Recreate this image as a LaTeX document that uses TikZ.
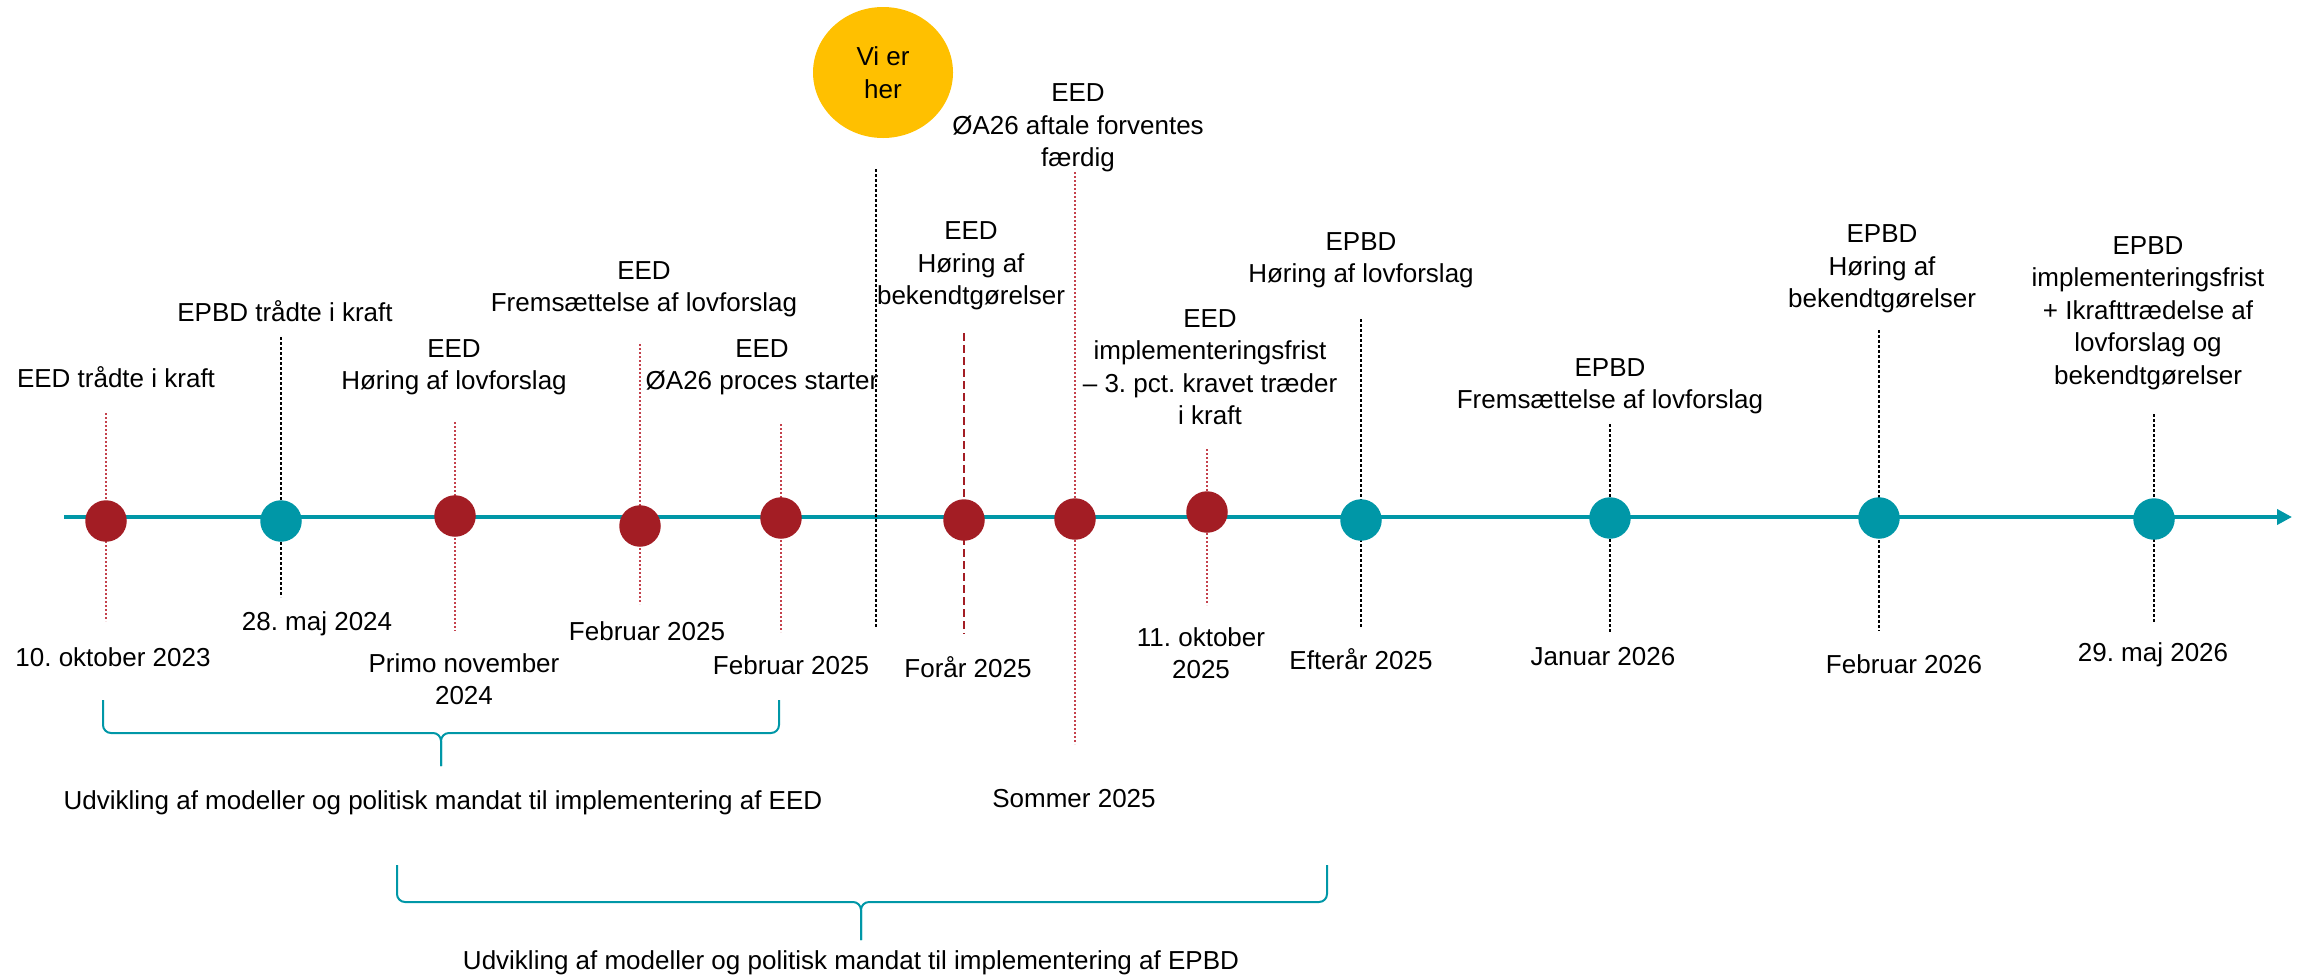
\documentclass[tikz,border=0pt]{standalone}
\usepackage{fontspec}
\setmainfont{Liberation Sans}
\frenchspacing
\usetikzlibrary{
  arrows.meta,
  shapes.geometric,
  positioning
}
\definecolor{eedred}{HTML}{A31D24}
\definecolor{eedthin}{HTML}{C4414C}
\definecolor{epbdteal}{HTML}{0097A7}
\definecolor{herecol}{HTML}{FFC000}
\tikzset{
  >={Triangle[length=15pt, width=15pt]},
  ball/.style = {circle, inner sep=0pt, minimum size=41.5pt},
  eed/.style = {ball, fill=eedred},
  epbd/.style = {ball, fill=epbdteal},
  axis/.style = {draw=epbdteal, line width=4.5pt},
  eedline/.style = {draw=eedthin, line width=1.3pt, dash pattern=on 2pt off 2pt},
  forline/.style = {draw=eedred, line width=2.5pt, dash pattern=on 8pt off 4pt},
  epbdline/.style = {draw=black, line width=1.3pt, dash pattern=on 3pt off 2pt},
  txt/.style = {align=center, font=\fontsize{26}{32.5}\selectfont},
  brace/.style = {draw=epbdteal, line width=2pt, rounded corners=8pt},
}

\begin{document}
\begin{tikzpicture}[x=1pt, y=-1pt]
  \useasboundingbox (0,0) rectangle (2306,978);

  \coordinate (start) at (64,517);
  \coordinate (end) at (2292,517);
  \draw[axis, ->] (start) -- (end);

  \coordinate (a1) at (106,413);   \coordinate (z1) at (106,621);
  \coordinate (a2) at (281,337);   \coordinate (z2) at (281,597);
  \coordinate (a3) at (455,422);   \coordinate (z3) at (455,631);
  \coordinate (a4) at (640,344);   \coordinate (z4) at (640,604);
  \coordinate (a5) at (781,424);   \coordinate (z5) at (781,632);
  \coordinate (ah) at (876,169);   \coordinate (zh) at (876,628);
  \coordinate (a6) at (964,333);   \coordinate (z6) at (964,634);
  \coordinate (a7) at (1075,172);  \coordinate (z7) at (1075,744);
  \coordinate (a8) at (1207,449);  \coordinate (z8) at (1207,605);
  \coordinate (a9) at (1361,319);  \coordinate (z9) at (1361,628);
  \coordinate (a10) at (1610,424); \coordinate (z10) at (1610,633);
  \coordinate (a11) at (1879,330); \coordinate (z11) at (1879,631);
  \coordinate (a12) at (2154,414); \coordinate (z12) at (2154,622);

  \draw[eedline] (a1) -- (z1) (a3) -- (z3) (a4) -- (z4) (a5) -- (z5)
    (a7) -- (z7) (a8) -- (z8);
  \draw[forline] (a6) -- (z6);
  \draw[epbdline] (a2) -- (z2) (ah) -- (zh) (a9) -- (z9) (a10) -- (z10)
    (a11) -- (z11) (a12) -- (z12);

  \node[eed] (d1) at (106,521) {};
  \node[epbd] (d2) at (281,521) {};
  \node[eed] (d3) at (455,516) {};
  \node[eed] (d4) at (640,526) {};
  \node[eed] (d5) at (781,518) {};
  \node[eed] (d6) at (964,520) {};
  \node[eed] (d7) at (1075,519) {};
  \node[eed] (d8) at (1207,512) {};
  \node[epbd] (d9) at (1361,520) {};
  \node[epbd] (d10) at (1610,518) {};
  \node[epbd] (d11) at (1879,518) {};
  \node[epbd] (d12) at (2154,519) {};

  \node[ellipse, fill=herecol, minimum width=140pt, minimum height=131pt, txt]
    (here) at (883,72.5) {Vi er\\her};

  \node[txt] (t1) at (116,377) {EED trådte i kraft};
  \node[txt] (t2) at (285,311) {EPBD trådte i kraft};
  \node[txt] (t3) at (454,367) {EED\\Høring af lovforslag};
  \node[txt] (t4) at (644,289) {EED\\Fremsættelse af lovforslag};
  \node[txt] (t5) at (762,367) {EED\\ØA26 proces starter};
  \node[txt] (t6) at (971,266) {EED\\Høring af\\bekendtgørelser};
  \node[txt] (t7) at (1078,128) {EED\\ØA26 aftale forventes\\færdig};
  \node[txt] (t8) at (1210,367) {EED\\implementeringsfrist\\– 3. pct. kravet træder\\i kraft};
  \node[txt] (t9) at (1361,260) {EPBD\\Høring af lovforslag};
  \node[txt] (t10) at (1610,386) {EPBD\\Fremsættelse af lovforslag};
  \node[txt] (t11) at (1882,269) {EPBD\\Høring af\\bekendtgørelser};
  \node[txt] (t12) at (2148,313) {EPBD\\implementeringsfrist\\+ Ikrafttrædelse af\\lovforslag og\\bekendtgørelser};

  \node[txt] (b1) at (113,657) {10. oktober 2023};
  \node[txt] (b2) at (317,624) {28. maj 2024};
  \node[txt] (b3) at (464,679) {Primo november\\2024};
  \node[txt] (b4) at (647,631) {Februar 2025};
  \node[txt] (b5) at (791,665) {Februar 2025};
  \node[txt] (b6) at (968,667) {Forår 2025};
  \node[txt] (b7) at (1074,799) {Sommer 2025};
  \node[txt] (b8) at (1201,653) {11. oktober\\2025};
  \node[txt] (b9) at (1361,659) {Efterår 2025};
  \node[txt] (b10) at (1603,657) {Januar 2026};
  \node[txt] (b11) at (1904,664) {Februar 2026};
  \node[txt] (b12) at (2153,655) {29. maj 2026};

  \draw[brace] (103,700) |- (441,733) -- (441,766);
  \draw[brace] (441,766) -- (441,733) -| (779,700);
  \node[txt] (eedspan) at (443,803)
    {Udvikling af modeller og politisk mandat til implementering af EED};

  \draw[brace] (397,865) |- (861,902) -- (861,940);
  \draw[brace] (861,940) -- (861,902) -| (1327,865);
  \node[txt] (epbdspan) at (851,963)
    {Udvikling af modeller og politisk mandat til implementering af EPBD};
\end{tikzpicture}
\end{document}
